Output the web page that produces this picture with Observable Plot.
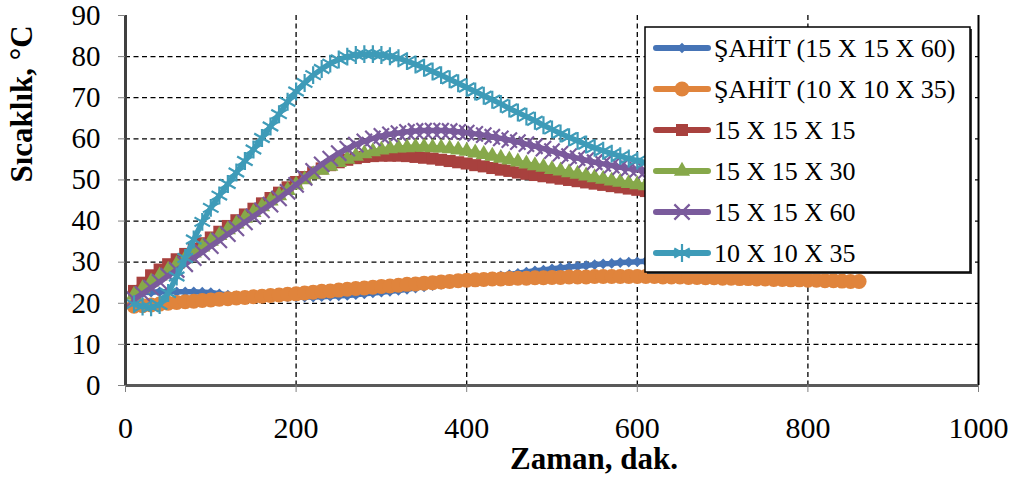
<!DOCTYPE html>
<html>
<head>
<meta charset="utf-8">
<script src="https://cdn.jsdelivr.net/npm/d3@7"></script>
<script src="https://cdn.jsdelivr.net/npm/@observablehq/plot@0.6"></script>
<style>
  body { margin: 0; background: #fff; }
  #wrap { position: relative; width: 1016px; height: 487px; background: #fff; }
  #legend { position: absolute; left: 644px; top: 26px; }
</style>
</head>
<body>
<div id="wrap"><div id="chart"></div><svg id="legend" width="330" height="250"></svg></div>
<script>
const times = [10,20,30,40,50,60,70,80,90,100,110,120,130,140,150,160,170,180,190,200,
  210,220,230,240,250,260,270,280,290,300,310,320,330,340,350,360,370,380,390,400,
  410,420,430,440,450,460,470,480,490,500,510,520,530,540,550,560,570,580,590,600,
  610,620,630,640,650,660,670,680,690,700,710,720,730,740,750,760,770,780,790,800,
  810,820,830,840,850,860];

const sahit15x15x60 = [22.3,22.6,22.7,22.8,22.8,22.8,22.8,22.8,22.7,22.6,
  22.3,22.0,21.8,21.7,21.6,21.5,21.5,21.5,21.5,21.5,
  21.5,21.5,21.6,21.7,21.8,21.9,22.1,22.3,22.5,22.7,
  22.9,23.1,23.4,23.7,24.0,24.3,24.6,24.9,25.2,25.5,
  25.8,26.1,26.4,26.7,27.0,27.3,27.6,27.9,28.1,28.4,
  28.6,28.8,29.0,29.2,29.4,29.6,29.7,29.9,30.0,30.1,
  30.2,30.3,30.3,30.4,30.4];

const sahit10x10x35 = [19.3,19.4,19.6,19.8,20.0,20.2,20.4,20.5,20.7,20.8,
  21.0,21.1,21.3,21.4,21.6,21.7,21.9,22.0,22.2,22.3,
  22.5,22.7,22.9,23.0,23.2,23.4,23.6,23.7,23.9,24.1,
  24.2,24.4,24.6,24.7,24.9,25.0,25.2,25.3,25.5,25.6,
  25.7,25.8,25.9,25.9,26.0,26.1,26.1,26.2,26.2,26.3,
  26.3,26.4,26.4,26.4,26.5,26.5,26.5,26.5,26.5,26.5,
  26.5,26.5,26.4,26.4,26.4,26.3,26.3,26.2,26.2,26.1,
  26.1,26.0,26.0,25.9,25.9,25.8,25.8,25.7,25.7,25.6,
  25.6,25.5,25.5,25.4,25.3,25.3];

const s15x15x15 = [23.0,25.0,26.8,28.2,29.5,30.7,32.0,33.3,34.6,36.0,
  37.4,38.8,40.2,41.6,43.0,44.3,45.6,46.9,48.2,49.5,
  50.7,51.8,52.8,53.6,54.3,54.9,55.3,55.6,55.8,55.9,
  55.9,55.9,55.8,55.6,55.4,55.2,54.9,54.6,54.3,54.0,
  53.6,53.3,52.9,52.5,52.2,51.8,51.5,51.2,50.9,50.6,
  50.3,50.0,49.7,49.4,49.1,48.8,48.5,48.2,47.9,47.6,
  47.3,47.0,46.7,46.4,46.1];

const s15x15x30 = [22.0,23.6,25.2,26.7,28.1,29.5,30.9,32.3,33.7,35.1,
  36.5,37.9,39.3,40.7,42.1,43.5,44.9,46.2,47.5,48.8,
  50.1,51.3,52.4,53.4,54.3,55.1,55.8,56.4,56.9,57.3,
  57.6,57.8,57.9,58.0,58.0,57.9,57.8,57.6,57.3,57.0,
  56.6,56.2,55.8,55.3,54.9,54.4,53.9,53.5,53.1,52.6,
  52.2,51.8,51.4,51.0,50.6,50.2,49.8,49.5,49.2,48.9,
  48.6,48.3,48.0,47.7,47.4];

const s15x15x60 = [21.0,22.3,23.8,25.2,26.7,28.1,29.5,31.0,32.4,33.9,
  35.3,36.8,38.2,39.7,41.1,42.6,44.0,45.5,47.1,48.8,
  50.5,52.2,53.8,55.2,56.5,57.6,58.6,59.4,60.1,60.7,
  61.1,61.4,61.7,61.9,62.0,62.0,62.0,61.9,61.7,61.5,
  61.2,60.9,60.5,60.1,59.7,59.2,58.7,58.2,57.6,57.0,
  56.4,55.8,55.3,54.8,54.3,53.9,53.5,53.1,52.8,52.5,
  52.2,51.9,51.6,51.3,51.0];

const s10x10x35 = [19.8,19.2,19.0,19.6,22.5,26.5,31.0,35.5,39.8,43.2,
  46.2,49.0,51.8,54.6,57.4,60.2,63.0,66.0,69.0,71.5,
  73.6,75.5,77.0,78.3,79.3,80.0,80.4,80.6,80.6,80.4,
  80.1,79.6,78.9,78.1,77.3,76.4,75.5,74.5,73.5,72.5,
  71.5,70.5,69.5,68.5,67.4,66.4,65.4,64.4,63.3,62.3,
  61.3,60.4,59.5,58.6,57.8,57.1,56.4,55.8,55.2,54.7,
  54.2,53.7,53.2,52.7,52.2];

const seriesNames = ["ŞAHİT (15 X 15 X 60)", "ŞAHİT (10 X 10 X 35)", "15 X 15 X 15", "15 X 15 X 30", "15 X 15 X 60", "10 X 10 X 35"];
const seriesValues = [sahit15x15x60, sahit10x10x35, s15x15x15, s15x15x30, s15x15x60, s10x10x35];
const seriesColors = ["#4674B6", "#E0843C", "#A8413E", "#86A84A", "#7A5B9C", "#3E9BB8"];
const seriesSymbols = ["diamond2", "circle", "square", "triangle", "times", "asterisk"];
const symbolRadii = [4.8, 7.5, 6.8, 6, 7, 8.5];
const xTicks = [0, 200, 400, 600, 800, 1000];
const yTicks = [0, 10, 20, 30, 40, 50, 60, 70, 80, 90];
const xLabel = "Zaman, dak.";
const yLabel = "Sıcaklık, °C";

const serif = "'Times New Roman', 'Liberation Serif', serif";
const strokeSyms = new Set(["times", "asterisk"]);

const marks = [
  Plot.ruleY(yTicks.filter(d => d > 0 && d < 90), {stroke: "#000", strokeWidth: 1.3, strokeDasharray: "5,3.5"}),
  Plot.ruleX(xTicks.filter(d => d > 0 && d < 1000), {stroke: "#000", strokeWidth: 1.3, strokeDasharray: "5,3.5"}),
  Plot.ruleX([1000], {stroke: "#000", strokeWidth: 2})
];

seriesValues.forEach((vals, i) => {
  const rows = vals.map((v, j) => ({t: times[j], v}));
  marks.push(Plot.line(rows, {x: "t", y: "v", stroke: seriesColors[i], strokeWidth: 5.5, strokeLinecap: "round", strokeLinejoin: "round"}));
  const sym = seriesSymbols[i];
  if (strokeSyms.has(sym)) {
    marks.push(Plot.dot(rows, {x: "t", y: "v", symbol: sym, r: symbolRadii[i], fill: "none", stroke: seriesColors[i], strokeWidth: 2.2}));
  } else {
    marks.push(Plot.dot(rows, {x: "t", y: "v", symbol: sym, r: symbolRadii[i], fill: seriesColors[i], stroke: "none"}));
  }
});

marks.push(
  Plot.ruleY([0], {stroke: "#595959", strokeWidth: 3}),
  Plot.ruleX([0], {stroke: "#404040", strokeWidth: 3}),
  Plot.axisY({ticks: yTicks, tickSize: 7, stroke: "#808080", tickFormat: () => "", label: null}),
  Plot.axisX({ticks: xTicks, tickSize: 7, stroke: "#808080", tickFormat: () => "", label: null}),
  Plot.text(yTicks, {x: 0, y: d => d, dx: -25, textAnchor: "end", text: d => String(d), fontSize: 29, fontFamily: serif, fill: "#000"}),
  Plot.text(xTicks, {x: d => d, y: 0, dy: 43, text: d => String(d), fontSize: 30, fontFamily: serif, fill: "#000"}),
  Plot.text([xLabel], {frameAnchor: "bottom", dx: 42, dy: 83, fontSize: 31, fontFamily: serif, fontWeight: "bold", fill: "#000"}),
  Plot.text([yLabel], {frameAnchor: "left", rotate: -90, dx: -103, dy: -18, fontSize: 31, fontFamily: serif, fontWeight: "bold", fill: "#000"})
);

const chart = Plot.plot({
  width: 1016,
  height: 487,
  marginLeft: 125,
  marginRight: 38,
  marginTop: 15,
  marginBottom: 102,
  x: {domain: [0, 1000], axis: null},
  y: {domain: [0, 90], axis: null},
  style: {fontFamily: serif, fontSize: "26px", background: "#fff", color: "#000", overflow: "visible"},
  marks
});
document.getElementById("chart").appendChild(chart);

// Legend
const lg = d3.select("#legend");
lg.append("rect").attr("x", 3).attr("y", 3).attr("width", 325).attr("height", 245).attr("fill", "#3a3a3a");
lg.append("rect").attr("x", 1).attr("y", 1).attr("width", 325).attr("height", 245).attr("fill", "#fff").attr("stroke", "#000").attr("stroke-width", 1.5);
const d3Syms = {diamond2: d3.symbolDiamond2, circle: d3.symbolCircle, square: d3.symbolSquare, triangle: d3.symbolTriangle, times: d3.symbolTimes, asterisk: d3.symbolAsterisk};
seriesNames.forEach((name, i) => {
  const cy = 22 + i * 41;
  const g = lg.append("g");
  g.append("line").attr("x1", 12).attr("x2", 64).attr("y1", cy).attr("y2", cy)
    .attr("stroke", seriesColors[i]).attr("stroke-width", 6).attr("stroke-linecap", "round");
  const sym = seriesSymbols[i];
  const p = g.append("path")
    .attr("d", d3.symbol(d3Syms[sym], Math.PI * symbolRadii[i] ** 2)())
    .attr("transform", `translate(38,${cy})`);
  if (strokeSyms.has(sym)) p.attr("fill", "none").attr("stroke", seriesColors[i]).attr("stroke-width", 2.2);
  else p.attr("fill", seriesColors[i]);
  g.append("text").attr("x", 70).attr("y", cy + 9).attr("font-family", serif).attr("font-size", 26).attr("fill", "#000").text(name);
});
</script>
</body>
</html>
